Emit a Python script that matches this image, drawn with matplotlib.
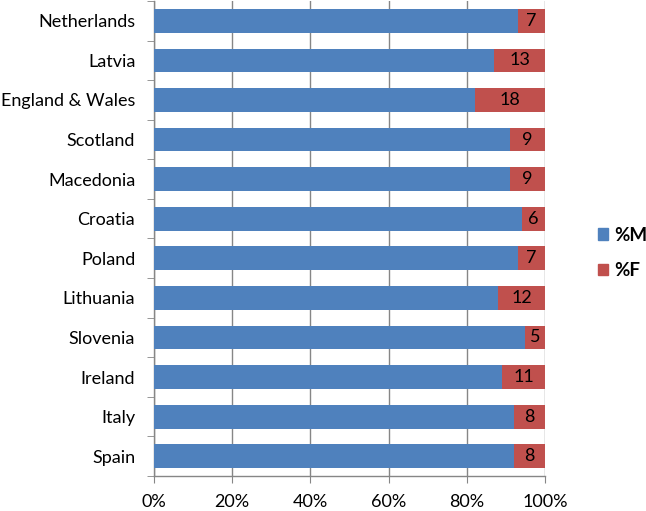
import matplotlib
matplotlib.use("Agg")
import matplotlib.pyplot as plt
from matplotlib.patches import Patch

countries = ["Netherlands", "Latvia", "England & Wales", "Scotland", "Macedonia",
             "Croatia", "Poland", "Lithuania", "Slovenia", "Ireland", "Italy", "Spain"]
pct_f = [7, 13, 18, 9, 9, 6, 7, 12, 5, 11, 8, 8]
pct_m = [100 - f for f in pct_f]

BLUE, RED, GREY = "#4F81BD", "#C0504D", "#868686"
plt.rcParams["font.family"] = ["Lato", "DejaVu Sans"]
FS = 13

fig = plt.figure(figsize=(6.46, 5.11), dpi=100)
ax = fig.add_axes([154 / 646, 35 / 511, 391 / 646, 475 / 511])

y = list(range(len(countries)))[::-1]
ax.barh(y, pct_m, height=0.6, color=BLUE, zorder=3)
ax.barh(y, pct_f, left=pct_m, height=0.6, color=RED, zorder=3)
for yi, m, f in zip(y, pct_m, pct_f):
    ax.text(m + f / 2, yi, str(f), ha="center", va="center", fontsize=FS, zorder=4)

ax.set_xlim(0, 100)
ax.set_ylim(-0.5, len(countries) - 0.5)
ax.set_xticks(range(0, 101, 20))
ax.set_xticklabels([f"{v}%" for v in range(0, 101, 20)], fontsize=FS)
ax.set_yticks(y)
ax.set_yticklabels(countries, fontsize=FS)
ax.set_yticks([i - 0.5 for i in range(len(countries) + 1)], minor=True)
ax.tick_params(axis="y", which="major", length=0, pad=13.5)
ax.tick_params(axis="y", which="minor", length=5, color=GREY, direction="out")
ax.tick_params(axis="x", length=5, color=GREY, direction="out", pad=8)
ax.grid(axis="x", color=GREY, lw=1, zorder=0)
for s in ("top", "right"):
    ax.spines[s].set_visible(False)
for s in ("left", "bottom"):
    ax.spines[s].set_color(GREY)
    ax.spines[s].set_linewidth(1)

handles = [Patch(color=BLUE, label="%M"), Patch(color=RED, label="%F")]
fig.legend(handles=handles, loc="center left", bbox_to_anchor=(598 / 646, 0.505),
           frameon=False, borderpad=0, borderaxespad=0,
           handlelength=0.55, handleheight=0.55, handletextpad=0.3,
           labelspacing=1.0, prop={"weight": "bold", "size": 13.5})

fig.savefig("out.png", dpi=100)
